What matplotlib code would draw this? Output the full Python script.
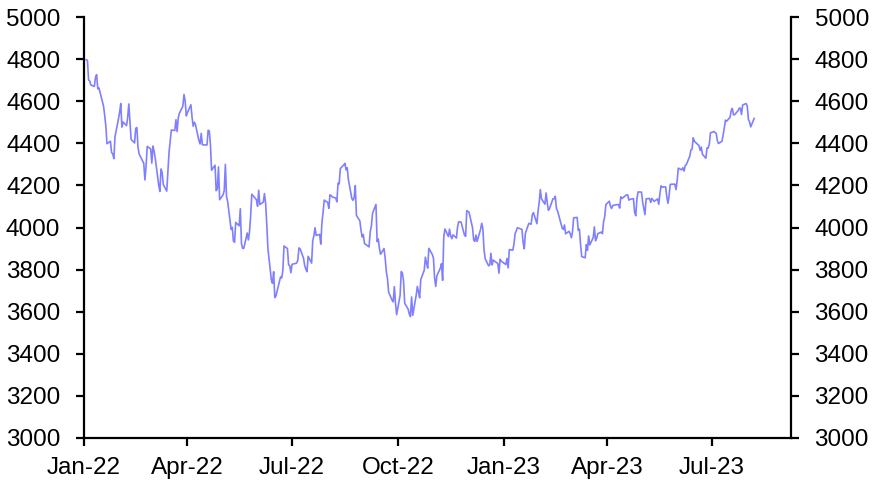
import numpy as np
import pandas as pd
import matplotlib
matplotlib.use('Agg')
import matplotlib.pyplot as plt
import matplotlib.dates as mdates

plt.rcParams['font.family'] = ['Liberation Sans', 'DejaVu Sans']

# exchange holidays in the period (no trading)
holidays = ['2022-01-17', '2022-02-21', '2022-04-15', '2022-05-30', '2022-06-20',
            '2022-07-04', '2022-09-05', '2022-11-24', '2022-12-26',
            '2023-01-02', '2023-01-16', '2023-02-20', '2023-04-07', '2023-05-29',
            '2023-06-19', '2023-07-04']

# daily index closes, one list per month
jan22 = [4797, 4794, 4701, 4696, 4677, 4670, 4713, 4726, 4659, 4663, 4577, 4533, 4483, 4398,
         4410, 4356, 4350, 4327, 4432, 4516]
feb22 = [4547, 4589, 4477, 4501, 4484, 4522, 4587, 4504, 4419, 4402, 4471, 4475, 4380, 4349,
         4305, 4226, 4289, 4385, 4374]
mar22 = [4306, 4387, 4363, 4329, 4201, 4171, 4278, 4260, 4204, 4173, 4262, 4358, 4412, 4463,
         4461, 4512, 4456, 4520, 4543, 4576, 4632, 4602, 4530]
apr22 = [4546, 4583, 4525, 4481, 4500, 4488, 4413, 4397, 4447, 4393, 4392, 4462, 4459, 4394,
         4272, 4296, 4175, 4184, 4288, 4132]
may22 = [4155, 4175, 4300, 4147, 4123, 3991, 4001, 3935, 3930, 4024, 4008, 4089, 3924, 3901,
         3901, 3974, 3941, 3979, 4058, 4158, 4132]
jun22 = [4101, 4177, 4109, 4121, 4161, 4116, 4018, 3901, 3750, 3735, 3790, 3667, 3675, 3765,
         3760, 3796, 3912, 3900, 3822, 3819, 3785]
jul22 = [3825, 3831, 3845, 3903, 3899, 3854, 3819, 3802, 3790, 3863, 3831, 3937, 3960, 3999,
         3962, 3967, 3921, 4024, 4072, 4130]
aug22 = [4119, 4091, 4155, 4152, 4145, 4140, 4122, 4210, 4207, 4280, 4297, 4305, 4274, 4284,
         4228, 4138, 4129, 4141, 4199, 4058, 4031, 3986, 3955]
sep22 = [3967, 3924, 3908, 3980, 4006, 4067, 4110, 3933, 3946, 3901, 3873, 3900, 3856, 3790,
         3758, 3693, 3655, 3647, 3719, 3640, 3586]
oct22 = [3678, 3791, 3783, 3745, 3640, 3612, 3589, 3577, 3670, 3583, 3678, 3720, 3695, 3666,
         3753, 3797, 3859, 3831, 3807, 3901, 3872]
nov22 = [3856, 3760, 3720, 3771, 3807, 3828, 3749, 3956, 3993, 3957, 3992, 3959, 3947, 3965,
         3950, 4004, 4027, 4026, 3964, 3958, 4080]
dec22 = [4077, 4072, 3999, 3941, 3934, 3964, 3934, 3991, 4020, 3995, 3896, 3852, 3818, 3822,
         3878, 3822, 3845, 3829, 3783, 3849, 3840]
jan23 = [3824, 3853, 3808, 3895, 3892, 3919, 3970, 3983, 3999, 3991, 3929, 3899, 3973, 4020,
         4017, 4016, 4060, 4071, 4018, 4077]
feb23 = [4119, 4180, 4136, 4111, 4164, 4118, 4082, 4090, 4137, 4136, 4148, 4090, 4079, 3997,
         3991, 4012, 3970, 3982, 3970]
mar23 = [3951, 3981, 4046, 4048, 3986, 3992, 3918, 3862, 3856, 3919, 3892, 3960, 3917, 3952,
         4003, 3937, 3949, 3971, 3978, 3971, 4028, 4051, 4109]
apr23 = [4125, 4101, 4090, 4105, 4109, 4109, 4092, 4146, 4138, 4151, 4155, 4155, 4130, 4134,
         4137, 4072, 4056, 4135, 4169]
may23 = [4168, 4120, 4091, 4061, 4136, 4138, 4119, 4138, 4131, 4124, 4136, 4110, 4159, 4198,
         4192, 4193, 4146, 4115, 4151, 4205, 4206, 4180]
jun23 = [4221, 4282, 4274, 4284, 4268, 4294, 4299, 4339, 4369, 4373, 4426, 4410, 4389, 4366,
         4382, 4348, 4329, 4378, 4377, 4396, 4450]
jul23 = [4456, 4447, 4412, 4399, 4410, 4439, 4472, 4510, 4505, 4523, 4555, 4566, 4535, 4536,
         4555, 4567, 4567, 4537, 4582, 4589]
aug23 = [4577, 4513, 4502, 4478, 4518]

values = (jan22 + feb22 + mar22 + apr22 + may22 + jun22 + jul22 + aug22 + sep22 + oct22 +
          nov22 + dec22 + jan23 + feb23 + mar23 + apr23 + may23 + jun23 + jul23 + aug23)

days = pd.bdate_range('2022-01-03', '2023-08-07')
days = days[~days.isin(pd.to_datetime(holidays))]
n = min(len(days), len(values))
days = days[:n]
values = values[:n]

fig = plt.figure(figsize=(8.73, 4.82), dpi=100)
ax = fig.add_axes([0.0962, 0.0913, 0.8098, 0.8734])

ax.plot(days, values, color='#8080FF', lw=1.2)

ax.set_ylim(3000, 5000)
ax.set_yticks(np.arange(3000, 5001, 200))
ax.set_xlim(pd.Timestamp('2022-01-01'), pd.Timestamp('2023-09-08'))
ax.xaxis.set_major_locator(mdates.MonthLocator(bymonth=[1, 4, 7, 10]))
ax.xaxis.set_major_formatter(mdates.DateFormatter('%b-%y'))

ax.spines['top'].set_visible(False)
for s in ['left', 'right', 'bottom']:
    ax.spines[s].set_linewidth(1.6)
ax.tick_params(axis='y', which='both', left=True, right=True, labelleft=True,
               labelright=True, direction='out', length=6, width=1.6, pad=11,
               labelsize=17.5)
ax.tick_params(axis='x', direction='out', length=6, width=1.6, pad=8, labelsize=17.5)

fig.savefig('out.png', dpi=100)
